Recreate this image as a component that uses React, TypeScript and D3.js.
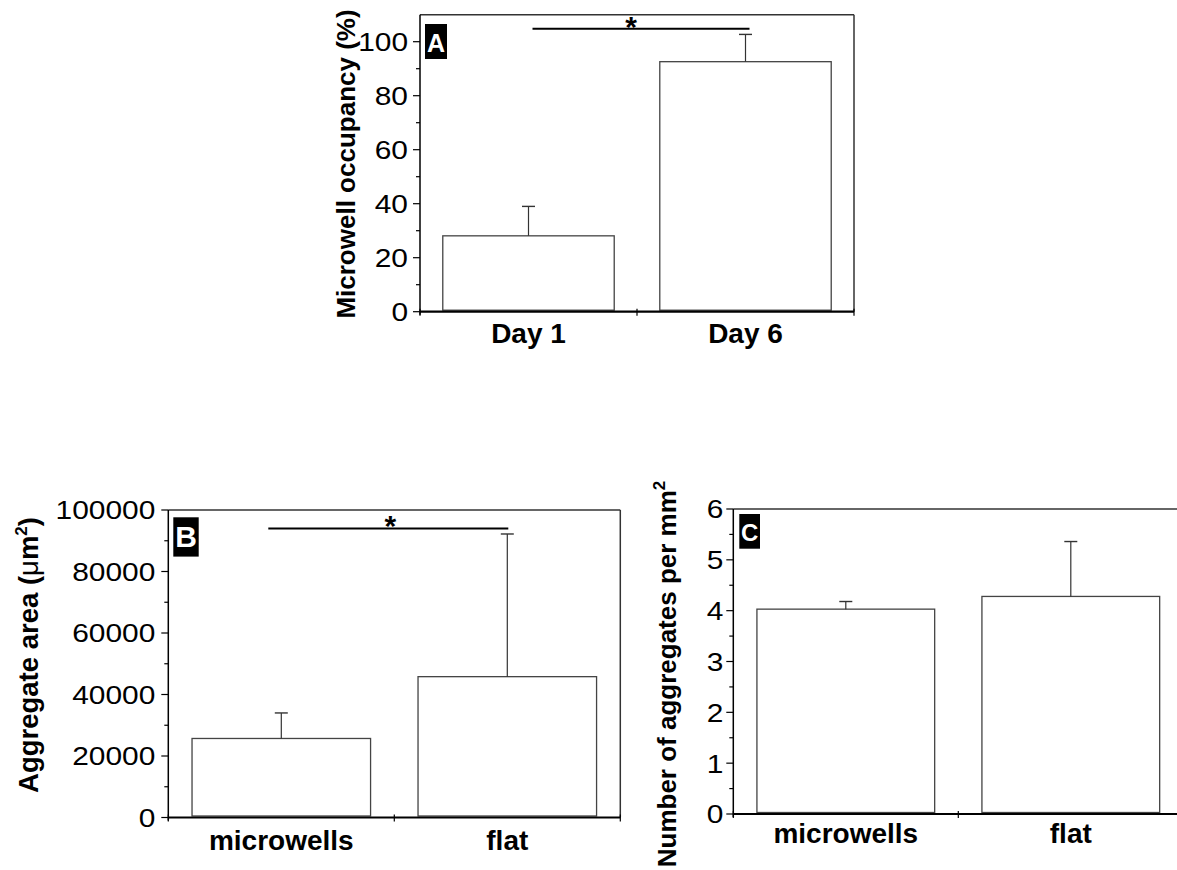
import React, { useEffect, useRef } from 'react';
import * as d3 from 'd3';

// panel A - microwell occupancy
const occupancyLabels = ['Day 1', 'Day 6'];
const occupancyMeans = [28.1, 92.6];
const occupancyErrors = [10.9, 10.1];
const occupancyTicks = [0, 20, 40, 60, 80, 100];

// panel B - aggregate area
const areaLabels = ['microwells', 'flat'];
const areaMeans = [25700, 45800];
const areaErrors = [8300, 46400];
const areaTicks = [0, 20000, 40000, 60000, 80000, 100000];

// panel C - aggregates per mm2
const densityLabels = ['microwells', 'flat'];
const densityMeans = [4.03, 4.28];
const densityErrors = [0.15, 1.08];
const densityTicks = [0, 1, 2, 3, 4, 5, 6];

const FONT = '"Liberation Sans", Arial, Helvetica, sans-serif';

const panels = [
  {
    labels: occupancyLabels, means: occupancyMeans, errors: occupancyErrors, ticks: occupancyTicks,
    yMax: 110, left: 420, top: 14.7, bottom: 311.7, step: 217, frameRight: true,
    title: [{ t: 'Microwell occupancy (%)' }], titleX: 355, titleY: 164, titleSize: 26,
    tag: 'A', tagBox: [425, 24, 22, 35], tagSize: 25, tagBase: 51.7,
    sig: { value: 104.8, from: 4, to: 4, star: -10 },
    labelDy: 31, labelGap: 12,
  },
  {
    labels: areaLabels, means: areaMeans, errors: areaErrors, ticks: areaTicks,
    yMax: 100000, left: 168.3, top: 510, bottom: 817.5, step: 226, frameRight: true,
    title: [{ t: 'Aggregate area (' }, { t: 'μ', normal: true }, { t: 'm' }, { t: '2', sup: true }, { t: ')' }],
    titleX: 38, titleY: 655, titleSize: 27.5,
    tag: 'B', tagBox: [173.3, 517.3, 25.4, 39.3], tagSize: 30, tagBase: 547,
    sig: { value: 94000, from: -13, to: 1, star: 2 },
    labelDy: 32, labelGap: 13,
  },
  {
    labels: densityLabels, means: densityMeans, errors: densityErrors, ticks: densityTicks,
    yMax: 6, left: 733.3, top: 509, bottom: 814, step: 225, frameRight: false,
    title: [{ t: 'Number of aggregates per mm' }, { t: '2', sup: true }],
    titleX: 676, titleY: 674, titleSize: 26,
    tag: 'C', tagBox: [739.3, 514, 20.7, 34.7], tagSize: 24, tagBase: 540.5,
    sig: null,
    labelDy: 29, labelGap: 10,
  },
];

function drawPanel(svg, p) {
  const n = p.labels.length;
  const right = p.left + p.step * n;
  const x = d3.scaleBand().domain(p.labels).range([p.left, right]).paddingInner(0.21).paddingOuter(0.105);
  const y = d3.scaleLinear().domain([0, p.yMax]).range([p.bottom, p.top]);
  const g = svg.append('g');
  const cx = (i) => x(p.labels[i]) + x.bandwidth() / 2;

  // frame
  g.append('line')
    .attr('x1', p.left).attr('x2', right).attr('y1', p.top).attr('y2', p.top)
    .attr('stroke', '#333').attr('stroke-width', 1.5);
  if (p.frameRight) {
    g.append('line')
      .attr('x1', right).attr('x2', right).attr('y1', p.top).attr('y2', y(0))
      .attr('stroke', '#333').attr('stroke-width', 1.5);
  }

  // bars
  g.selectAll('rect.bar')
    .data(p.means)
    .join('rect')
    .attr('class', 'bar')
    .attr('x', (d, i) => x(p.labels[i]))
    .attr('y', d => y(d))
    .attr('width', x.bandwidth())
    .attr('height', d => y(0) - y(d) - 1.5)
    .attr('fill', '#fff')
    .attr('stroke', '#444')
    .attr('stroke-width', 1.3);

  // upper error bars
  p.means.forEach((m, i) => {
    const top = y(m + p.errors[i]);
    g.append('line')
      .attr('x1', cx(i)).attr('x2', cx(i)).attr('y1', y(m)).attr('y2', top)
      .attr('stroke', '#333').attr('stroke-width', 1.2);
    g.append('line')
      .attr('x1', cx(i) - 6.5).attr('x2', cx(i) + 6.5).attr('y1', top).attr('y2', top)
      .attr('stroke', '#333').attr('stroke-width', 1.4);
  });

  // y axis
  g.append('line')
    .attr('x1', p.left).attr('x2', p.left).attr('y1', p.top).attr('y2', y(0) + 3)
    .attr('stroke', '#000').attr('stroke-width', 1.5);
  g.selectAll('line.major')
    .data(p.ticks)
    .join('line')
    .attr('class', 'major')
    .attr('x1', p.left - 7).attr('x2', p.left)
    .attr('y1', d => y(d)).attr('y2', d => y(d))
    .attr('stroke', '#000').attr('stroke-width', 1.2);
  const half = (p.ticks[1] - p.ticks[0]) / 2;
  g.selectAll('line.minor')
    .data(p.ticks.slice(0, -1).map(t => t + half))
    .join('line')
    .attr('class', 'minor')
    .attr('x1', p.left - 4).attr('x2', p.left)
    .attr('y1', d => y(d)).attr('y2', d => y(d))
    .attr('stroke', '#000').attr('stroke-width', 1.2);
  g.selectAll('text.ytick')
    .data(p.ticks)
    .join('text')
    .attr('class', 'ytick')
    .attr('transform', d => `translate(${p.left - p.labelGap},${y(d)}) scale(1.15,1)`)
    .attr('text-anchor', 'end')
    .attr('dy', '0.36em')
    .attr('font-family', FONT)
    .attr('font-size', 26)
    .attr('fill', '#000')
    .text(d => d);

  // x axis
  g.append('line')
    .attr('x1', p.left).attr('x2', right).attr('y1', y(0)).attr('y2', y(0))
    .attr('stroke', '#000').attr('stroke-width', 2.2);
  g.selectAll('line.xtick')
    .data(d3.range(n + 1).map(i => p.left + i * x.step()))
    .join('line')
    .attr('class', 'xtick')
    .attr('x1', d => d).attr('x2', d => d)
    .attr('y1', y(0) - 3).attr('y2', y(0) + 4)
    .attr('stroke', '#000').attr('stroke-width', 1.2);
  g.selectAll('text.xlabel')
    .data(p.labels)
    .join('text')
    .attr('class', 'xlabel')
    .attr('x', (d, i) => cx(i))
    .attr('y', y(0) + p.labelDy)
    .attr('text-anchor', 'middle')
    .attr('font-family', FONT)
    .attr('font-size', 28)
    .attr('font-weight', 'bold')
    .text(d => d);

  // axis title
  const title = g.append('text')
    .attr('transform', `translate(${p.titleX},${p.titleY}) rotate(-90)`)
    .attr('text-anchor', 'middle')
    .attr('font-family', FONT)
    .attr('font-size', p.titleSize)
    .attr('font-weight', 'bold');
  let raised = false;
  p.title.forEach(s => {
    const ts = title.append('tspan').text(s.t);
    if (s.normal) ts.attr('font-weight', 'normal');
    if (s.sup) {
      ts.attr('font-size', 17).attr('dy', -11);
      raised = true;
    } else if (raised) {
      ts.attr('dy', 11);
      raised = false;
    }
  });

  // panel tag
  const [bx, by, bw, bh] = p.tagBox;
  g.append('rect').attr('x', bx).attr('y', by).attr('width', bw).attr('height', bh).attr('fill', '#000');
  g.append('text')
    .attr('x', bx + bw / 2).attr('y', p.tagBase)
    .attr('text-anchor', 'middle')
    .attr('font-family', FONT)
    .attr('font-size', p.tagSize)
    .attr('font-weight', 'bold')
    .attr('fill', '#fff')
    .text(p.tag);

  // significance bar
  if (p.sig) {
    const x1 = cx(0) + p.sig.from;
    const x2 = cx(1) + p.sig.to;
    const ys = y(p.sig.value);
    g.append('line')
      .attr('x1', x1).attr('x2', x2).attr('y1', ys).attr('y2', ys)
      .attr('stroke', '#000').attr('stroke-width', 2);
    g.append('text')
      .attr('x', (x1 + x2) / 2 + p.sig.star).attr('y', ys + 8)
      .attr('text-anchor', 'middle')
      .attr('font-family', FONT)
      .attr('font-size', 30)
      .attr('font-weight', 'bold')
      .text('*');
  }
}

export default function App() {
  const ref = useRef(null);

  useEffect(() => {
    const svg = d3.select(ref.current);
    svg.selectAll('*').remove();
    panels.forEach(p => drawPanel(svg, p));
  }, []);

  return (
    <svg
      ref={ref}
      width={1177}
      height={870}
      style={{ position: 'absolute', left: 0, top: 0, background: '#fff' }}
    />
  );
}
